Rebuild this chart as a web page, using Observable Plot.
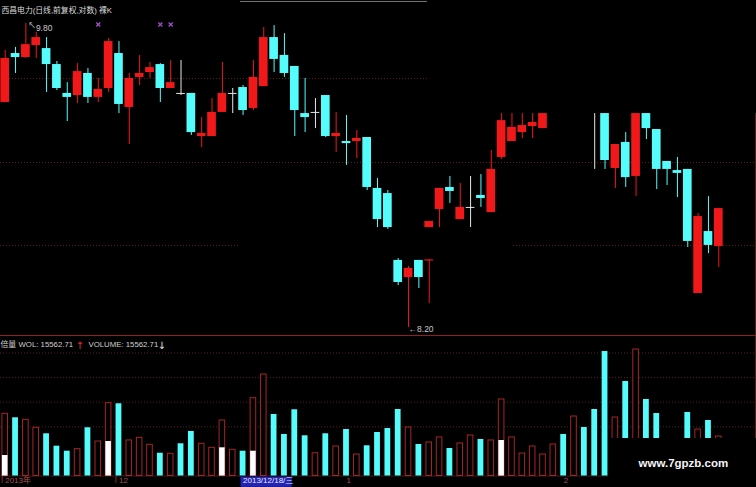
<!DOCTYPE html>
<html><head><meta charset="utf-8">
<script src="https://cdn.jsdelivr.net/npm/d3@7"></script>
<script src="https://cdn.jsdelivr.net/npm/@observablehq/plot@0.6"></script>
<style>
html,body{margin:0;padding:0;background:#000;}
#chart{width:756px;height:487px;overflow:hidden;background:#000}
#price svg,#vol svg{display:block}
#vol{border-top:1px solid #8a2222}
</style></head><body><div id="chart"><div id="price"></div><div id="vol"></div></div>
<script>
// ---------- data ----------
const title = "西昌电力(日线,前复权,对数) 裸K";
const idx = [0,1,2,3,4,5,6,7,8,9,10,11,12,13,14,15,16,17,18,19,20,21,22,23,24,25,26,27,28,29,30,31,32,33,34,35,36,37,38,39,40,41,41,42,43,44,45,46,47,48,49,50,51,52,57,58,59,60,61,62,63,64,65,66,67,68,69];
const open = [9.384,9.642,9.621,9.684,9.668,9.584,9.432,9.421,9.537,9.411,
  9.458,9.642,9.358,9.516,9.542,9.584,9.458,9.432,9.432,9.205,
  9.205,9.332,9.432,9.463,9.353,9.468,9.726,9.632,9.574,9.326,
  9.332,9.421,9.205,9.179,9.179,9.200,8.932,8.905,8.553,8.463,
  8.553,8.550,8.726,8.821,8.937,8.768,8.832,8.895,8.805,9.095,
  9.179,9.226,9.258,9.247,9.326,9.326,9.037,9.174,8.995,9.326,
  9.242,9.074,9.026,9.032,8.379,8.705,8.626];
const high = [9.658,9.674,9.800,9.753,9.726,9.600,9.489,9.589,9.563,9.511,
  9.721,9.705,9.537,9.632,9.595,9.589,9.605,9.605,9.432,9.305,
  9.405,9.595,9.458,9.474,9.605,9.779,9.789,9.747,9.574,9.511,
  9.405,9.421,9.332,9.316,9.237,9.200,8.984,8.921,8.563,8.521,
  8.553,8.556,8.758,8.932,8.995,8.958,8.995,9.005,9.132,9.326,
  9.326,9.326,9.326,9.326,9.326,9.326,9.163,9.226,9.326,9.326,
  9.242,9.074,9.095,9.032,8.800,8.889,8.826];
const low = [9.384,9.537,9.616,9.616,9.437,9.447,9.284,9.379,9.379,9.384,
  9.437,9.326,9.163,9.474,9.511,9.384,9.458,9.421,9.211,9.147,
  9.205,9.332,9.326,9.316,9.342,9.468,9.542,9.516,9.205,9.226,
  9.247,9.200,9.121,9.053,9.089,8.921,8.726,8.716,8.421,8.200,
  8.405,8.326,8.726,8.726,8.853,8.768,8.726,8.832,8.805,9.084,
  9.179,9.195,9.195,9.247,9.032,9.032,8.932,8.937,8.889,9.189,
  8.926,8.947,8.884,8.621,8.379,8.589,8.516];
const close = [9.616,9.621,9.689,9.726,9.584,9.458,9.411,9.547,9.411,9.453,
  9.705,9.374,9.511,9.537,9.568,9.458,9.489,9.432,9.226,9.221,
  9.332,9.432,9.432,9.342,9.516,9.726,9.611,9.537,9.342,9.305,
  9.332,9.205,9.221,9.168,9.195,8.937,8.768,8.726,8.437,8.511,
  8.463,8.556,8.758,8.932,8.916,8.832,8.832,8.879,9.032,9.289,
  9.253,9.263,9.279,9.326,9.326,9.079,9.163,8.989,9.326,9.247,
  9.032,9.032,9.011,8.653,8.784,8.632,8.826];

const volume = [12640,11830,11420,9800,8580,6060,5040,5450,9800,7010,
  14800,14680,7220,7760,6340,4630,4510,6550,9050,6550,
  5730,11280,5330,5040,15810,20630,12500,8440,13460,8170,
  4630,8580,6000,9450,4370,6140,8840,9650,13520,9860,
  6400,6810,7830,5590,6610,8230,7420,7220,15550,7830,
  4570,6000,4370,6400,8440,12090,9860,13520,25300,11890,
  19210,25710,15550,12700,7220,6810,12910,9450,11280,8030];
const volUp = [1,0,1,1,0,0,0,1,0,1, 1,0,1,1,1,0,1,0,0,1, 1,1,1,0,1,1,0,0,0,0,
  1,0,1,0,1,0,0,0,0,1, 0,1,1,0,1,1,0,1,1,1, 1,1,1,1,0,1,0,0,0,1,
  0,1,0,0,0,0,0,1,0,1];
const whiteIdx = [0,10,21,24,48];
const whiteVol = [4170,7010,5730,5040,7220];

const markIdx = [9,15,16];
const hiLabel = "9.80", loLabel = "←8.20";
const hiIdx = 2, loIdx = 39;
const priceGrid = [9.5105, 9.0684, 8.6316];
const volGrid = [10000,15000,20000,25000];
const tickIdx = [0,11,23,33,54];
const tickText = ["2013年","12","2013/12/18/三","1","2"];
const volLabel = ["倍量","WOL: 15562.71","↑","VOLUME: 15562.71","↓"];
const watermark = "www.7gpzb.com";

// ---------- build ----------
const RED = "#f01818", CYAN = "#54fcfc", WHITE = "#e6e6e6";
const candles = idx.map((i,k)=>({i, o:open[k], h:high[k], l:low[k], c:close[k]}));
const col = d => d.c > d.o ? RED : d.c < d.o ? CYAN : WHITE;
const bodies = candles.filter(d=>d.c!==d.o);
const dojis = candles.filter(d=>d.c===d.o && d.h>d.o);
const vols = volume.map((v,i)=>({i, v, up: volUp[i]}));
const whites = whiteIdx.map((i,k)=>({i, v: whiteVol[k]}));
const xDom = [-0.4545, 72.645];
const font = "'Liberation Sans','Noto Sans CJK SC',sans-serif";
const GRID = "#5e1c1c";

const price = Plot.plot({
  width: 756, height: 335, margin: 0,
  style: {background: "#000", fontFamily: font},
  x: {domain: xDom, axis: null},
  y: {domain: [8.1579, 9.9211], axis: null},
  marks: [
    Plot.ruleY([priceGrid[0]], {x1: xDom[0], x2: 40.83, stroke: GRID, strokeDasharray: "1,2"}),
    Plot.ruleY([priceGrid[1]], {x1: xDom[0], x2: xDom[1], stroke: GRID, strokeDasharray: "1,2"}),
    Plot.ruleY([priceGrid[2]], {x1: xDom[0], x2: 22.75, stroke: GRID, strokeDasharray: "1,2"}),
    Plot.ruleY([priceGrid[2]], {x1: 49.15, x2: xDom[1], stroke: GRID, strokeDasharray: "1,2"}),
    Plot.ruleY([9.916], {x1: 22.75, x2: 40.83, stroke: "#777"}),
    Plot.ruleX([72.55], {y1: 9.326, y2: 8.158, stroke: "#5a1a1a"}),
    Plot.ruleX(candles, {x: "i", y1: "l", y2: "h", stroke: col, strokeWidth: 1}),
    Plot.rect(bodies, {x1: d=>d.i-0.42, x2: d=>d.i+0.42, y1: "o", y2: "c", fill: col}),
    Plot.ruleY(dojis, {y: "o", x1: d=>d.i-0.42, x2: d=>d.i+0.42, stroke: WHITE}),
    Plot.dot(markIdx, {x: d=>d, frameAnchor: "top", dy: 24, symbol: "times", r: 2, stroke: "#a050d0", strokeWidth: 1.2}),
    Plot.text(["↖"], {x: hiIdx, y: high[2], dx: 2, dy: 2, textAnchor: "start", fill: "#c8c8c8", fontSize: 8}),
    Plot.text([hiLabel], {x: hiIdx, y: high[2], dx: 10, dy: 5, textAnchor: "start", fill: "#c8c8c8", fontSize: 8.5}),
    Plot.text([loLabel], {x: loIdx, y: low[39], dx: 0, dy: 2, textAnchor: "start", fill: "#c8c8c8", fontSize: 8.5}),
    Plot.text([title], {frameAnchor: "top-left", dx: 1, dy: 7, fill: "#dcdcdc", fontSize: 7.8})
  ]
});
document.getElementById("price").appendChild(price);

const VRED = "#a52626";
const vol = Plot.plot({
  width: 756, height: 151, marginTop: 0, marginLeft: 0, marginRight: 0, marginBottom: 11.5,
  style: {background: "#000", fontFamily: font},
  x: {domain: xDom, axis: null},
  y: {domain: [0, 28353], axis: null},
  marks: [
    Plot.ruleY(volGrid, {stroke: GRID, strokeDasharray: "1,2"}),
    Plot.ruleY([0], {stroke: "#4a1616"}),
    Plot.ruleX([72.55], {y1: 28353, y2: 7622, stroke: "#5a1a1a"}),
    Plot.rect(vols.filter(d=>d.up), {x1: d=>d.i-0.27, x2: d=>d.i+0.27, y1: 0, y2: "v", fill: "#000", stroke: VRED, strokeWidth: 1}),
    Plot.rect(vols.filter(d=>!d.up), {x1: d=>d.i-0.28, x2: d=>d.i+0.28, y1: 0, y2: "v", fill: CYAN}),
    Plot.rect(whites, {x1: d=>d.i-0.27, x2: d=>d.i+0.27, y1: 0, y2: "v", fill: "#fff"}),
    Plot.text([volLabel[0]], {frameAnchor: "top-left", dx: 0, dy: 5, fill: "#d0d0d0", fontSize: 7.8}),
    Plot.text([volLabel[1]], {frameAnchor: "top-left", dx: 18, dy: 5, fill: "#d0d0d0", fontSize: 7.8}),
    Plot.text([volLabel[2]], {frameAnchor: "top-left", dx: 75, dy: 5, fill: "#e03030", fontSize: 10, fontFamily: "DejaVu Sans"}),
    Plot.text([volLabel[3]], {frameAnchor: "top-left", dx: 88, dy: 5, fill: "#d0d0d0", fontSize: 7.8}),
    Plot.text([volLabel[4]], {frameAnchor: "top-left", dx: 157, dy: 5, fill: "#e0e0e0", fontSize: 10, fontFamily: "DejaVu Sans"}),
    Plot.rect([0], {x1: 22.8, x2: 27.75, y1: -250, y2: -2300, fill: "#2323b4"}),
    Plot.ruleX([0, 11], {y1: -150, y2: -1500, dx: -3, stroke: "#8a2a2a"}),
    Plot.text(tickIdx, {x: d=>d, text: (d,k)=>tickText[k], frameAnchor: "bottom", dy: 6.5, textAnchor: "start",
      fill: (d,k)=>k===2 ? "#e8e8ff" : "#a85050", fontSize: 8}),
    Plot.rect([0], {x1: 58.35, x2: xDom[1], y1: 7622, y2: -2400, fill: "#000"}),
    Plot.text([watermark], {x: 61.24, y: 2540, textAnchor: "start", fill: "#f4f4f4", fontWeight: "bold", fontSize: 11.5})
  ]
});
document.getElementById("vol").appendChild(vol);
</script></body></html>
